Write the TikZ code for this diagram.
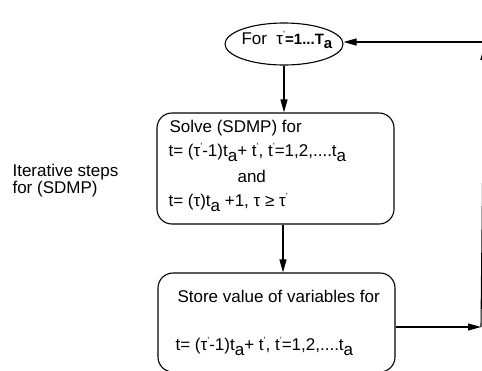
\documentclass[tikz,border=0pt]{standalone}
\usepackage{fontspec}
\setmainfont{Liberation Sans}
\usetikzlibrary{arrows.meta,shapes.geometric}
% small raised tick for primes, lowered full-size subscript
\newcommand\pr{\raisebox{7pt}{\fontsize{9}{9}\selectfont '}}
\newcommand\sba{\raisebox{-5pt}{a}}
\begin{document}
\begin{tikzpicture}[x=1pt,y=-1pt,
  line width=1.1pt,
  txt/.style={anchor=base west,inner sep=0pt,font=\fontsize{17}{19}\selectfont},
  boxstyle/.style={draw,rounded corners=15pt,inner sep=0pt},
  arr/.style={-{Triangle[length=13pt,width=7pt]}}]
\useasboundingbox (0,0) rectangle (482,370);

% shapes
\node[draw,ellipse,minimum width=118pt,minimum height=42pt,inner sep=0pt] (loop) at (284,44) {};
\node[boxstyle,minimum width=237pt,minimum height=111pt] (solve) at (275.5,168.5) {};
\node[boxstyle,minimum width=237pt,minimum height=99pt] (store) at (276.5,322.5) {};

% texts
\node[txt] (fortxt) at (241,44) {For\ \ τ\pr\fontsize{15}{16}\selectfont\textbf{=1...T\raisebox{-4pt}{a}}};
\node[txt] (s1) at (169,132) {Solve (SDMP) for};
\node[txt] (s2) at (168,156) {t= (τ\pr-1)t\sba+ t\pr, t\pr=1,2,....t\sba};
\node[txt] (s3) at (237,182) {and};
\node[txt] (s4) at (168,206) {t= (τ)t\sba\ +1, τ ≥ τ\pr};
\node[txt] (r1) at (177,302) {Store value of variables for};
\node[txt] (r2) at (175,350) {t= (τ\pr-1)t\sba+ t\pr, t\pr=1,2,....t\sba};
\node[txt] (side1) at (12,176) {Iterative steps};
\node[txt] (side2) at (12,193) {for (SDMP)};

% connectors
\draw[arr] (loop.south) -- (loop.south |- solve.north);
\draw[arr] (283,0 |- solve.south) -- (283,0 |- store.north);
\coordinate (ret) at (481,327);
\coordinate (tip) at (484,47);
\coordinate (far) at (492,42);
\draw[arr] (store.east |- ret) -- (ret);
\draw[arr] (ret) -- (tip);
\draw[arr] (far) -- (loop.east |- far);
\end{tikzpicture}
\end{document}
